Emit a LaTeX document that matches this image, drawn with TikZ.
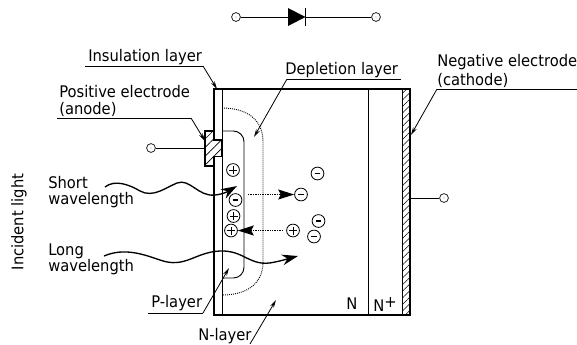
\documentclass[tikz,border=0pt]{standalone}
\usepackage{fontspec}
\setmainfont[FakeStretch=0.92]{DejaVu Sans}
\usepackage{tikz}
\usetikzlibrary{arrows.meta,patterns.meta,calc}
\tikzset{
  terminal/.style={draw,circle,inner sep=0pt,minimum size=6.6pt,line width=0.5pt,path picture={\fill (path picture bounding box.center) circle (0.35pt);}},
  charge/.style={draw,circle,inner sep=0pt,minimum size=9.6pt,line width=0.6pt},
  plus/.style={charge,path picture={\draw[line width=0.5pt] ($(path picture bounding box.center)+(-3pt,0)$) -- +(6pt,0) ($(path picture bounding box.center)+(0,-3pt)$) -- +(0,6pt);}},
  minus/.style={charge,path picture={\draw[line width=1.3pt] ($(path picture bounding box.center)+(-2.2pt,0)$) -- +(4.4pt,0);}},
  lbl/.style={anchor=west,inner sep=0pt,font=\fontsize{12pt}{13pt}\selectfont},
  leader/.style={line width=0.6pt,-{Stealth[length=6pt,width=3pt]}},
  wave/.style={line width=1pt,-{Stealth[length=12pt,width=8pt]}},
  carrier/.style={dash pattern=on 1pt off 0.8pt,line width=1.1pt,-{Stealth[length=12pt,width=7.5pt,inset=2pt]}},
  hatch/.style={pattern={Lines[angle=45,distance=3.5pt,line width=0.4pt]}}
}
\begin{document}
\begin{tikzpicture}[x=0.75pt,y=-0.75pt]
  \useasboundingbox (0,0) rectangle (577,344);
  % diode
  \node[terminal] (termL) at (236,17) {};
  \node[terminal] (termR) at (376,17) {};
  \coordinate (diodeA) at (288,17);
  \coordinate (diodeK) at (305.5,17);
  \draw[line width=0.6pt] (termL) -- (diodeA);
  \draw[line width=0.6pt] (diodeK) -- (termR);
  \fill (288,8) -- (diodeK) -- (288,26) -- cycle;
  \draw[line width=0.8pt] (305.5,8) -- (305.5,26);
  % body
  \draw[hatch,line width=0.7pt] (402,89) rectangle (410,315);
  \draw[line width=1.3pt] (214,315) -- (214,89) -- (410,89) -- (410,315) -- cycle;
  \draw[line width=0.7pt] (222,89) -- (222,315);
  \draw[line width=0.7pt] (368,89) -- (368,315);
  % anode
  \draw[preaction={fill=white},pattern={Lines[angle=45,distance=4.6pt,line width=0.5pt]},line width=0.8pt] (205,131) -- (214,131) -- (214,140) -- (222,140) -- (222,156.5) -- (214,156.5) -- (214,166) -- (205,166) -- cycle;
  \node[terminal] (termA) at (151,148) {};
  \coordinate (anodeW) at (205,148);
  \draw[line width=0.6pt] (termA) -- (anodeW);
  % cathode wire
  \node[terminal] (termK) at (444,198) {};
  \coordinate (cathodeE) at (410,198);
  \draw[line width=0.6pt] (cathodeE) -- (termK);
  % layers
  \draw[line width=0.7pt,rounded corners=8pt] (222,131) -- (244,131) -- (244,278) -- (222,278);
  \draw[dash pattern=on 0.7pt off 0.8pt,line width=0.7pt] (222,108) .. controls (245,108) and (263,118) .. (263,142) -- (263,262) .. controls (263,285) and (245,295) .. (222,295);
  % charges
  \node[plus] (p1) at (233,170) {};
  \node[minus] (m1) at (235.5,200) {};
  \node[plus] (p2) at (233.5,216) {};
  \node[plus] (p3) at (231,230.5) {};
  \node[minus] (m2) at (317.5,173.5) {};
  \node[minus] (m3) at (301,194.5) {};
  \node[plus] (p4) at (293,230.5) {};
  \node[minus] (m4) at (318.5,221) {};
  \node[minus] (m5) at (314,236.5) {};
  \coordinate (driftA) at (248,194.5);
  \coordinate (driftB) at (283,230.5);
  \draw[carrier] (driftA) -- (m3);
  \draw[carrier] (driftB) -- (p3);
  % light
  \coordinate (shortS) at (105,187);
  \coordinate (shortE) at (237,186);
  \coordinate (longS) at (104,256);
  \coordinate (longE) at (298,256);
  \draw[wave] (shortS) .. controls (115,179) and (130,185) .. (140,191) .. controls (153,198) and (165,188) .. (177,183) .. controls (190,178) and (198,197) .. (215,195) .. controls (225,194) and (230,190) .. (shortE);
  \draw[wave] (longS) .. controls (125,247) and (145,255) .. (160,260) .. controls (185,269) and (195,252) .. (220,251) .. controls (245,250) and (250,268) .. (275,262) .. controls (285,260) and (290,258) .. (longE);
  % labels
  \node[lbl] (insul) at (88,57) {Insulation layer};
  \coordinate (insulA) at (85,66);
  \coordinate (insulB) at (203,66);
  \coordinate (insulC) at (217,89);
  \draw[line width=0.6pt] (insulA) -- (insulB);
  \draw[leader] (insulB) -- (insulC);
  \node[lbl] (pos1) at (59,92) {Positive electrode};
  \node[lbl] (pos2) at (59,109) {(anode)};
  \coordinate (posA) at (57,118);
  \coordinate (posB) at (191,118);
  \coordinate (posC) at (205,141);
  \draw[line width=0.6pt] (posA) -- (posB);
  \draw[leader] (posB) -- (posC);
  \node[lbl] (depl) at (285,70) {Depletion layer};
  \coordinate (deplA) at (401,79);
  \coordinate (deplB) at (287,79);
  \coordinate (deplC) at (254,137);
  \draw[line width=0.6pt] (deplA) -- (deplB);
  \draw[leader] (deplB) -- (deplC);
  \node[lbl] (neg1) at (437,62) {Negative electrode};
  \node[lbl] (neg2) at (437,80) {(cathode)};
  \coordinate (negA) at (577,89);
  \coordinate (negB) at (437,89);
  \coordinate (negC) at (411,135);
  \draw[line width=0.6pt] (negA) -- (negB);
  \draw[leader] (negB) -- (negC);
  \node[lbl] (short1) at (48,183) {Short};
  \node[lbl] (short2) at (48,200) {wavelength};
  \node[lbl] (long1) at (48,251) {Long};
  \node[lbl] (long2) at (48,267) {wavelength};
  \node[lbl,anchor=center,rotate=90] (incid) at (19,222) {Incident light};
  \node[lbl] (player) at (151,303) {P-layer};
  \coordinate (pA) at (148,313);
  \coordinate (pB) at (203,313);
  \coordinate (pC) at (229,268);
  \draw[line width=0.6pt] (pA) -- (pB);
  \draw[leader] (pB) -- (pC);
  \node[lbl] (nlayer) at (198,336) {N-layer};
  \coordinate (nA) at (250,344);
  \coordinate (nB) at (276,300);
  \draw[leader] (nA) -- (nB);
  \node[lbl] (nreg) at (346,304) {N};
  \node[lbl] (nplus) at (373,304) {N\raisebox{3pt}{+}};
\end{tikzpicture}
\end{document}
